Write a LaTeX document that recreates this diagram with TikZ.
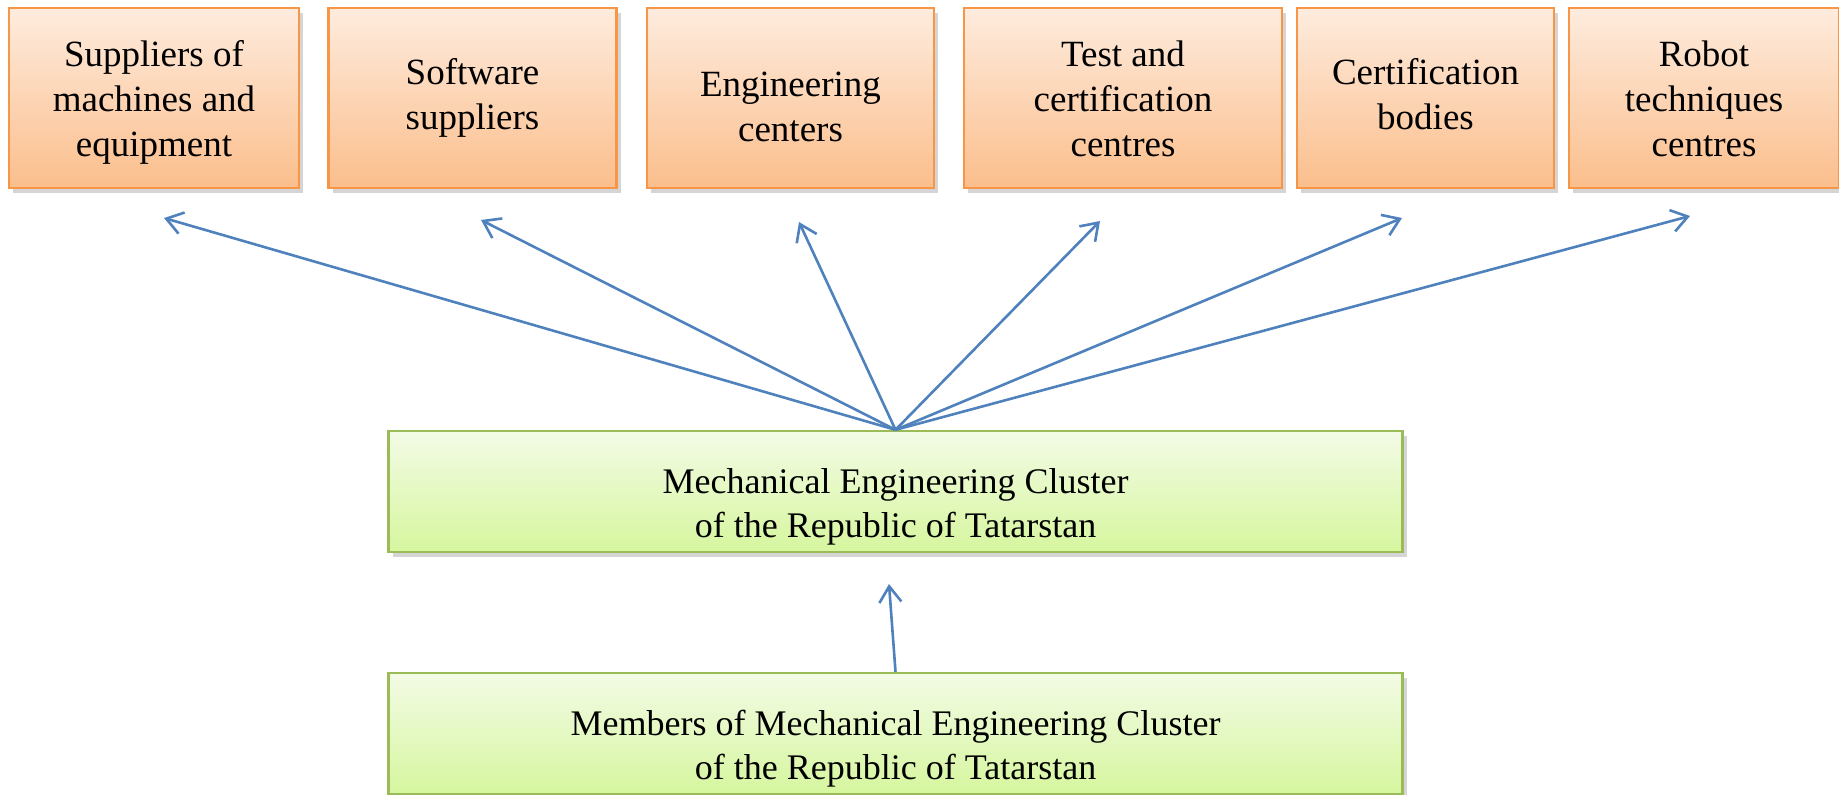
\documentclass[tikz,border=0pt]{standalone}
\usepackage{fontspec}
\setmainfont{Liberation Serif}
\usetikzlibrary{arrows.meta,shadows}

\definecolor{orline}{RGB}{247,150,70}
\definecolor{ortop}{RGB}{254,236,222}
\definecolor{orbot}{RGB}{251,190,140}
\definecolor{grline}{RGB}{155,187,89}
\definecolor{grtop}{RGB}{243,251,230}
\definecolor{grbot}{RGB}{214,246,158}
\definecolor{arr}{RGB}{79,129,189}

% text height = 2 x (last baseline below centre), text depth = 0
\tikzset{
  orbox/.style={draw=orline, line width=1.2pt, top color=ortop, bottom color=orbot,
    align=center, inner sep=0pt, minimum height=90pt, text depth=0pt,
    font=\fontsize{18.5}{22.5}\selectfont,
    drop shadow={shadow xshift=2pt, shadow yshift=-2.5pt, opacity=0.3, fill=black!55}},
  grbox/.style={draw=grline, line width=1.2pt, top color=grtop, bottom color=grbot,
    align=center, inner sep=0pt, minimum width=507pt, minimum height=60.5pt,
    text height=46pt, text depth=0pt,
    font=\fontsize{18}{22}\selectfont,
    drop shadow={shadow xshift=2pt, shadow yshift=-2.5pt, opacity=0.3, fill=black!55}},
  link/.style={arr, line width=1.3pt, -{Straight Barb[length=8pt,width=11pt,line width=1.3pt]}}
}

\begin{document}
\begin{tikzpicture}[x=0.5pt, y=-0.5pt]

\useasboundingbox (0,0) rectangle (1839,794);

% top row
\node [orbox, minimum width=145pt, text height=58pt]   (1) at (154,98)    {Suppliers of\\machines and\\equipment};
\node [orbox, minimum width=144pt, text height=31pt]   (2) at (472.5,98)  {Software\\suppliers};
\node [orbox, minimum width=143.5pt, text height=43.6pt] (3) at (790.5,98)  {Engineering\\centers};
\node [orbox, minimum width=159pt, text height=58pt]   (4) at (1123,98)   {Test and\\certification\\centres};
\node [orbox, minimum width=128.5pt, text height=31pt] (5) at (1425.5,98)  {Certification\\bodies};
\node [orbox, minimum width=135pt, text height=58pt]   (6) at (1704,98)   {Robot\\techniques\\centres};

% cluster
\node [grbox] (c) at (895.5,491.5) {Mechanical Engineering Cluster\\of the Republic of Tatarstan};
\node [grbox] (m) at (895.5,733.5) {Members of Mechanical Engineering Cluster\\of the Republic of Tatarstan};

\coordinate (t1) at (164,218);
\coordinate (t2) at (481,220);
\coordinate (t3) at (799,222);
\coordinate (t4) at (1100,221);
\coordinate (t5) at (1402,218);
\coordinate (t6) at (1690,216);
\coordinate (tm) at (889,584);

\foreach \i in {1,...,6}
    \draw [link] (c.north) -- (t\i);

\draw [link] (m.north) -- (tm);

\end{tikzpicture}
\end{document}
